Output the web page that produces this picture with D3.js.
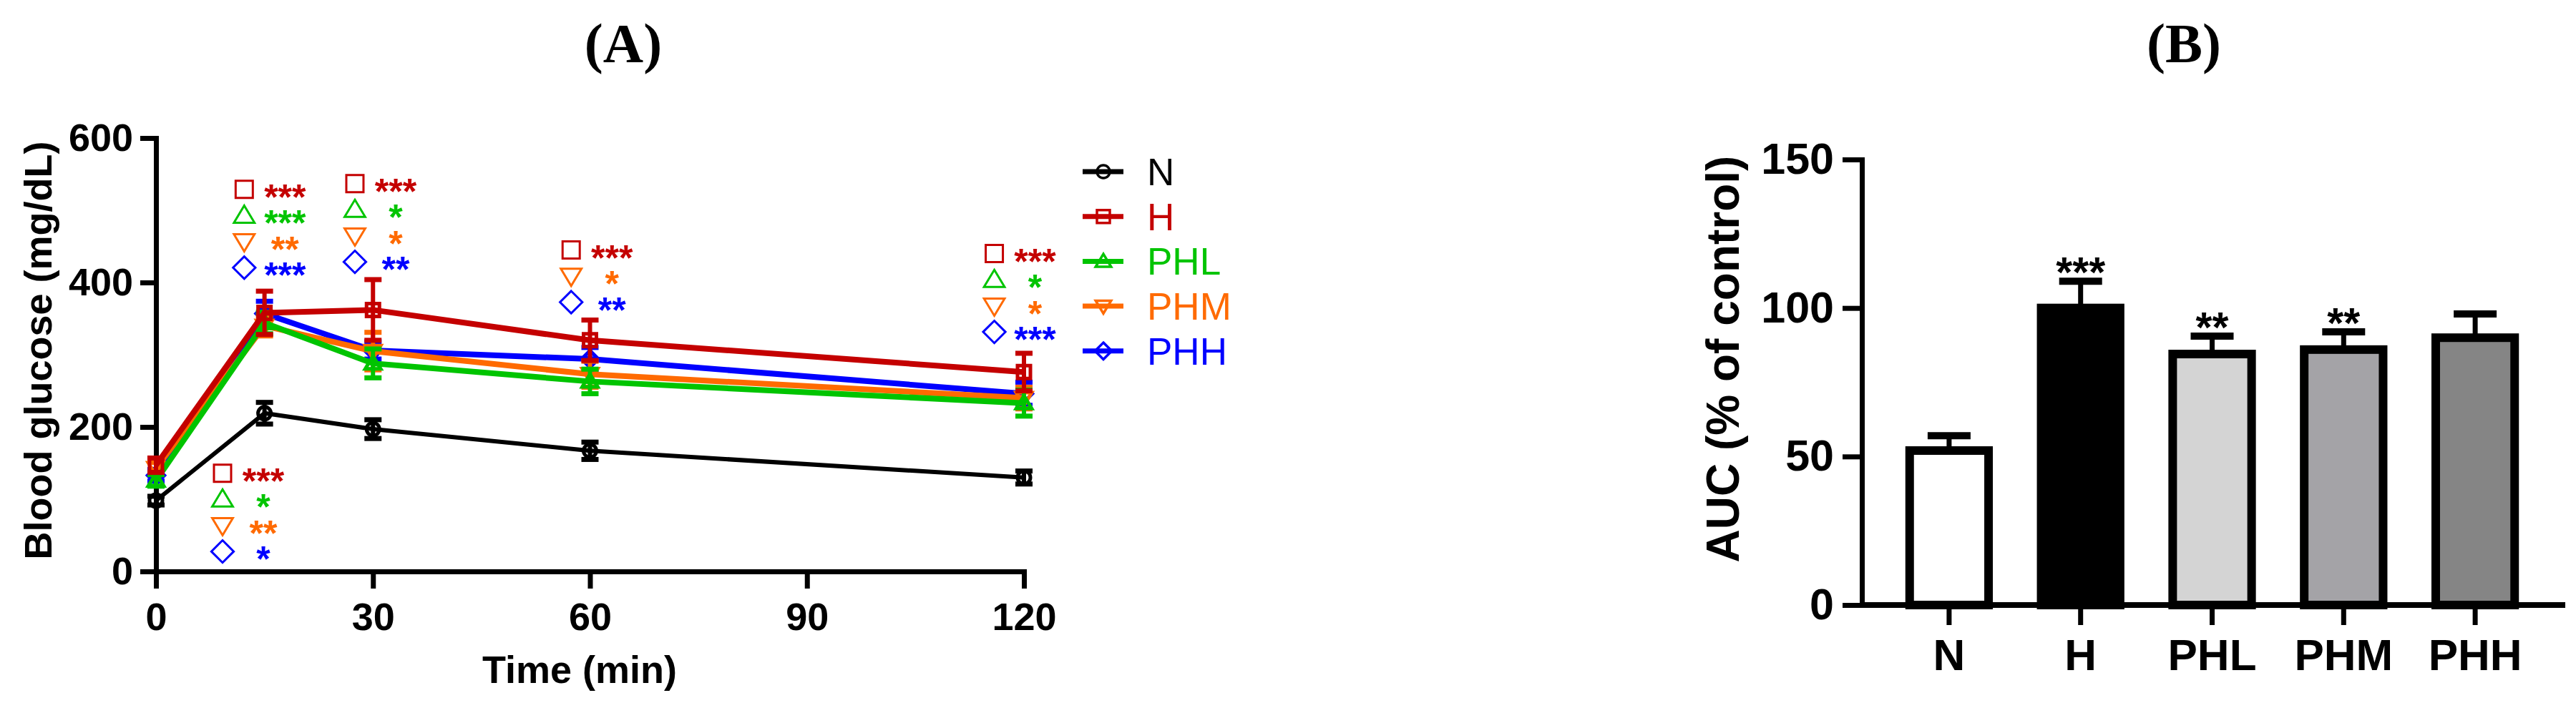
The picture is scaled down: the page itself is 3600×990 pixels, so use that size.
<!DOCTYPE html>
<html><head><meta charset="utf-8">
<script src="https://cdn.jsdelivr.net/npm/d3@7"></script>
<style>body{margin:0;background:#fff} svg{display:block}</style>
</head><body>
<svg id="chart" width="3600" height="990"></svg>
<script>
// ---------- DATA ----------
const times = [0, 15, 30, 60, 120];
const groupNames = ["N", "H", "PHL", "PHM", "PHH"];
const meanN   = [98, 219, 197, 167, 130];
const semN    = [6, 15, 13, 12, 9];
const meanH   = [147, 358, 362, 320, 276];
const semH    = [10, 30, 42, 28, 26];
const meanPHL = [126, 344, 288, 263, 233];
const semPHL  = [8, 15, 20, 17, 18];
const meanPHM = [143, 340, 305, 273, 240];
const semPHM  = [8, 14, 26, 18, 15];
const meanPHH = [133, 357, 306, 294, 246];
const semPHH  = [8, 17, 12, 16, 16];
const xTicksA = [0, 30, 60, 90, 120];
const yTicksA = [0, 200, 400, 600];

// significance annotations in panel A (anchor time, anchor value of top row, rows)
const sigTime  = [15, 30, 60, 120, 15];
const sigShift = [-2.8, -2.5, -2.6, -4.1, -5.8];   // horizontal offset of symbol column, in minutes
const sigTopValue = [529, 537, 445, 440, 136];
const sigRows = [
  [["H","***"],["PHL","***"],["PHM","**"],["PHH","***"]],
  [["H","***"],["PHL","*"],["PHM","*"],["PHH","**"]],
  [["H","***"],["PHM","*"],["PHH","**"]],
  [["H","***"],["PHL","*"],["PHM","*"],["PHH","***"]],
  [["H","***"],["PHL","*"],["PHM","**"],["PHH","*"]]
];

const aucMean = [52, 100, 84.5, 86, 90];
const aucSem  = [5, 9, 6, 6, 8];
const aucSig  = ["", "***", "**", "**", ""];
const yTicksB = [0, 50, 100, 150];

// ---------- STYLE ----------
const FONT = "'Liberation Sans', Arial, Helvetica, sans-serif";
const SERIF = "'Liberation Serif', 'Times New Roman', serif";
const colors = {N:"#000000", H:"#c40000", PHL:"#00c400", PHM:"#ff6a00", PHH:"#0000ff"};
const shapes = {N:"circle", H:"square", PHL:"triUp", PHM:"triDown", PHH:"diamond"};
const barFill = ["#ffffff", "#000000", "#d4d4d4", "#a4a3a7", "#858585"];

const series = [
  {name:"N", mean:meanN, sem:semN},
  {name:"H", mean:meanH, sem:semH},
  {name:"PHL", mean:meanPHL, sem:semPHL},
  {name:"PHM", mean:meanPHM, sem:semPHM},
  {name:"PHH", mean:meanPHH, sem:semPHH}
];
const byName = Object.fromEntries(series.map(s => [s.name, s]));

function markerPath(shape, s) {
  switch (shape) {
    case "circle":  return `M${-s},0A${s},${s} 0 1,0 ${s},0A${s},${s} 0 1,0 ${-s},0Z`;
    case "square":  return `M${-s},${-s}H${s}V${s}H${-s}Z`;
    case "triUp":   return `M0,${-s*1.15}L${s*1.2},${s*0.85}H${-s*1.2}Z`;
    case "triDown": return `M0,${s*1.15}L${s*1.2},${-s*0.85}H${-s*1.2}Z`;
    case "diamond": return `M0,${-s*1.3}L${s*1.3},0L0,${s*1.3}L${-s*1.3},0Z`;
  }
}

const svg = d3.select("#chart");
svg.append("rect").attr("width", 3600).attr("height", 990).attr("fill", "#fff");

function styleAxis(g, size) {
  g.attr("font-family", FONT).attr("font-size", size).attr("font-weight", "bold");
  g.selectAll("path.domain").attr("stroke", "#000").attr("stroke-width", 7).attr("stroke-linecap", "square");
  g.selectAll(".tick line").attr("stroke", "#000").attr("stroke-width", 7);
  g.selectAll(".tick text").attr("fill", "#000");
}

// ================= PANEL A =================
const xA = d3.scaleLinear().domain([0, 120]).range([218, 1431]);
const yA = d3.scaleLinear().domain([0, 600]).range([799, 193]);
const gA = svg.append("g");

gA.append("text").text("(A)")
  .attr("x", 871).attr("y", 87).attr("text-anchor", "middle")
  .attr("font-family", SERIF).attr("font-weight", "bold").attr("font-size", 78);

const yAxA = gA.append("g").attr("transform", `translate(${xA(0)},0)`)
  .call(d3.axisLeft(yA).tickValues(yTicksA).tickSize(22).tickSizeOuter(0).tickPadding(10).tickFormat(d3.format("d")));
styleAxis(yAxA, 54);
const xAxA = gA.append("g").attr("transform", `translate(0,${yA(0)})`)
  .call(d3.axisBottom(xA).tickValues(xTicksA).tickSize(24).tickSizeOuter(0).tickPadding(20).tickFormat(d3.format("d")));
styleAxis(xAxA, 54);

gA.append("text").text("Time (min)")
  .attr("x", 810).attr("y", 955).attr("text-anchor", "middle")
  .attr("font-family", FONT).attr("font-weight", "bold").attr("font-size", 54);
gA.append("text").text("Blood glucose (mg/dL)")
  .attr("transform", "translate(72,490) rotate(-90)").attr("text-anchor", "middle")
  .attr("font-family", FONT).attr("font-weight", "bold").attr("font-size", 54);

// data series
const lineGen = d3.line().x((d, i) => xA(times[i])).y(d => yA(d));
const drawOrder = ["N", "PHH", "PHM", "PHL", "H"];
drawOrder.forEach(name => {
  const s = byName[name];
  const c = colors[name];
  const g = gA.append("g");
  const pts = s.mean.map((m, i) => ({t: times[i], m, e: s.sem[i]}));
  // error bars
  g.selectAll("line.eb").data(pts).enter().append("line")
    .attr("x1", d => xA(d.t)).attr("x2", d => xA(d.t))
    .attr("y1", d => yA(d.m + d.e)).attr("y2", d => yA(d.m - d.e))
    .attr("stroke", c).attr("stroke-width", 6);
  ["+", "-"].forEach(sign => {
    g.selectAll("line.cap" + (sign === "+" ? "u" : "d")).data(pts).enter().append("line")
      .attr("x1", d => xA(d.t) - 12).attr("x2", d => xA(d.t) + 12)
      .attr("y1", d => yA(sign === "+" ? d.m + d.e : d.m - d.e))
      .attr("y2", d => yA(sign === "+" ? d.m + d.e : d.m - d.e))
      .attr("stroke", c).attr("stroke-width", 7);
  });
  g.append("path").datum(s.mean).attr("d", lineGen)
    .attr("fill", "none").attr("stroke", c)
    .attr("stroke-width", name === "N" ? 6 : 8).attr("stroke-linejoin", "round");
  g.selectAll("path.mk").data(pts).enter().append("path")
    .attr("transform", d => `translate(${xA(d.t)},${yA(d.m)})`)
    .attr("d", markerPath(shapes[name], 9))
    .attr("fill", "none").attr("stroke", c).attr("stroke-width", 5);
});

// significance annotations
const rowStep = 36.5;
sigTime.forEach((t, gi) => {
  const sx = xA(t + sigShift[gi]);
  const y0 = yA(sigTopValue[gi]);
  sigRows[gi].forEach((r, ri) => {
    const [name, stars] = r;
    const y = y0 + ri * rowStep;
    gA.append("path").attr("transform", `translate(${sx},${y})`)
      .attr("d", markerPath(shapes[name], 12))
      .attr("fill", "none").attr("stroke", colors[name]).attr("stroke-width", 3);
    gA.append("text").text(stars)
      .attr("x", sx + 57).attr("y", y + 28).attr("text-anchor", "middle")
      .attr("font-family", FONT).attr("font-weight", "bold").attr("font-size", 50)
      .attr("fill", colors[name]);
  });
});

// legend
const legX = 1513, legY0 = 240, legStep = 62.7;
groupNames.forEach((name, i) => {
  const y = legY0 + i * legStep;
  const g = gA.append("g").attr("transform", `translate(${legX},${y})`);
  g.append("line").attr("x1", 0).attr("x2", 57).attr("y1", 0).attr("y2", 0)
    .attr("stroke", colors[name]).attr("stroke-width", 7);
  g.append("path").attr("transform", "translate(29,0)")
    .attr("d", markerPath(shapes[name], 9))
    .attr("fill", "none").attr("stroke", colors[name]).attr("stroke-width", 3.5);
  g.append("text").text(name).attr("x", 90).attr("y", 19)
    .attr("font-family", FONT).attr("font-size", 53).attr("fill", colors[name]);
});

// ================= PANEL B =================
const xB = d3.scaleBand().domain(groupNames).range([2632, 3551]).paddingInner(0.4).paddingOuter(0.2);
const yB = d3.scaleLinear().domain([0, 150]).range([846, 223]);
const axisXB = xB.range()[0] - 30;
const gB = svg.append("g");

gB.append("text").text("(B)")
  .attr("x", 3052).attr("y", 87).attr("text-anchor", "middle")
  .attr("font-family", SERIF).attr("font-weight", "bold").attr("font-size", 78);

// bars
gB.selectAll("rect.bar").data(groupNames).enter().append("rect")
  .attr("x", d => xB(d)).attr("width", xB.bandwidth())
  .attr("y", (d, i) => yB(aucMean[i])).attr("height", (d, i) => yB(0) - yB(aucMean[i]))
  .attr("fill", (d, i) => barFill[i]).attr("stroke", "#000").attr("stroke-width", 12);
// error bars (upper only)
gB.selectAll("line.ebB").data(groupNames).enter().append("line")
  .attr("x1", d => xB(d) + xB.bandwidth() / 2).attr("x2", d => xB(d) + xB.bandwidth() / 2)
  .attr("y1", (d, i) => yB(aucMean[i])).attr("y2", (d, i) => yB(aucMean[i] + aucSem[i]))
  .attr("stroke", "#000").attr("stroke-width", 7);
gB.selectAll("line.capB").data(groupNames).enter().append("line")
  .attr("x1", d => xB(d) + xB.bandwidth() / 2 - 30).attr("x2", d => xB(d) + xB.bandwidth() / 2 + 30)
  .attr("y1", (d, i) => yB(aucMean[i] + aucSem[i])).attr("y2", (d, i) => yB(aucMean[i] + aucSem[i]))
  .attr("stroke", "#000").attr("stroke-width", 10);
gB.selectAll("text.sigB").data(groupNames).enter().append("text")
  .text((d, i) => aucSig[i])
  .attr("x", d => xB(d) + xB.bandwidth() / 2)
  .attr("y", (d, i) => yB(aucMean[i] + aucSem[i]) + 8)
  .attr("text-anchor", "middle")
  .attr("font-family", FONT).attr("font-weight", "bold").attr("font-size", 59);

// axes
const yAxB = gB.append("g").attr("transform", `translate(${axisXB},0)`)
  .call(d3.axisLeft(yB).tickValues(yTicksB).tickSize(27).tickSizeOuter(0).tickPadding(12).tickFormat(d3.format("d")));
styleAxis(yAxB, 61);
const xAxB = gB.append("g").attr("transform", `translate(0,${yB(0)})`)
  .call(d3.axisBottom(xB).tickSize(28).tickSizeOuter(0).tickPadding(19));
styleAxis(xAxB, 62);
xAxB.select("path.domain").remove();
xAxB.append("line").attr("x1", axisXB).attr("x2", xB.range()[1] + 34)
  .attr("y1", 0).attr("y2", 0).attr("stroke", "#000").attr("stroke-width", 8);

gB.append("text").text("AUC (% of control)")
  .attr("transform", "translate(2430,502) rotate(-90)").attr("text-anchor", "middle")
  .attr("font-family", FONT).attr("font-weight", "bold").attr("font-size", 64);
</script>
</body></html>
